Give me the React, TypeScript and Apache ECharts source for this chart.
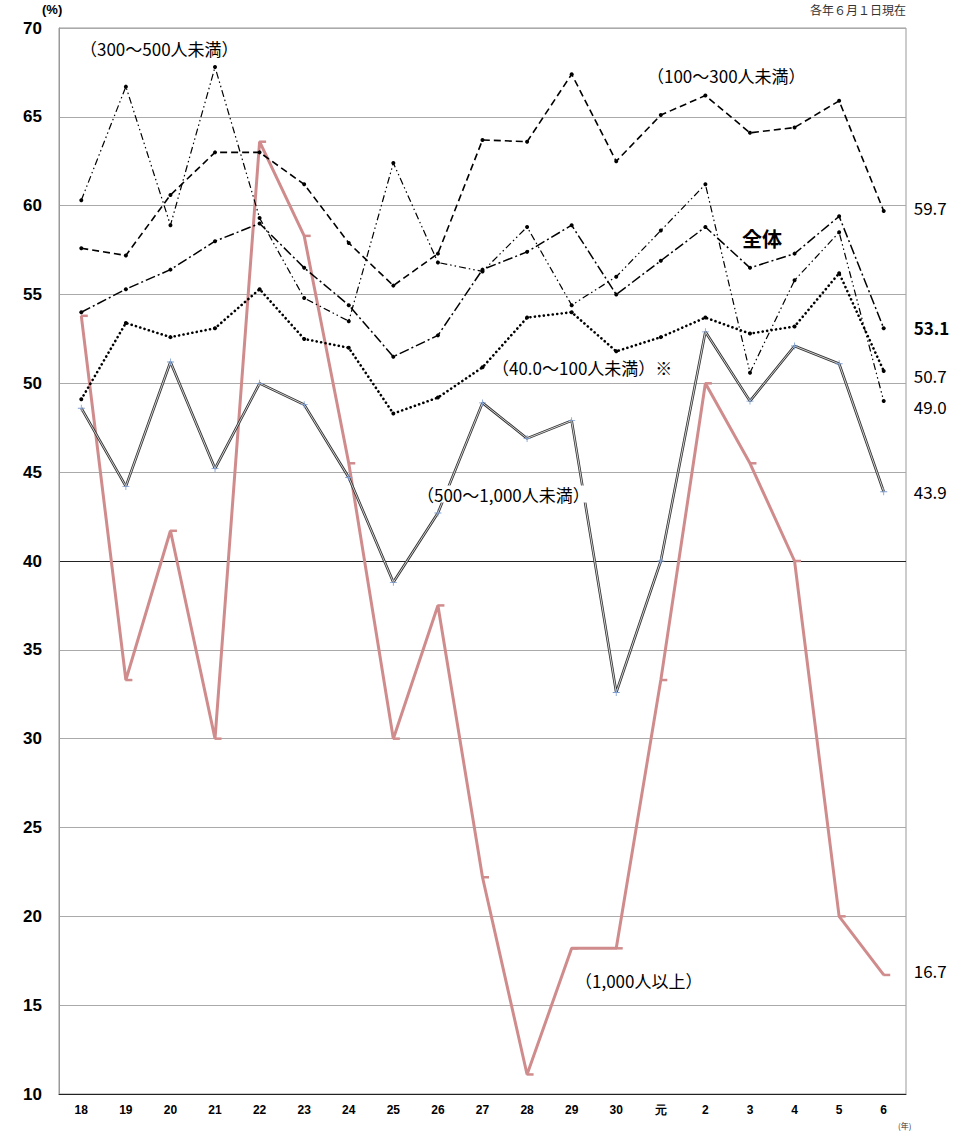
import React, { useEffect, useRef } from "react";
import * as echarts from "echarts";

// Survey years (Heisei 18 – Reiwa 6)
const years = ["18", "19", "20", "21", "22", "23", "24", "25", "26", "27", "28", "29", "30", "元", "2", "3", "4", "5", "6"];

// Share of companies (%) by company size
const total = [54.0, 55.3, 56.4, 58.0, 59.0, 56.5, 54.4, 51.5, 52.7, 56.4, 57.4, 58.9, 55.0, 56.9, 58.8, 56.5, 57.3, 59.4, 53.1];
const size100to300 = [57.6, 57.2, 60.6, 63.0, 63.0, 61.2, 57.9, 55.5, 57.3, 63.7, 63.6, 67.4, 62.5, 65.1, 66.2, 64.1, 64.4, 65.9, 59.7];
const size300to500 = [60.3, 66.7, 58.9, 67.8, 59.3, 54.8, 53.5, 62.4, 56.8, 56.3, 58.8, 54.4, 56.0, 58.6, 61.2, 50.6, 55.8, 58.5, 49.0];
const size40to100 = [49.1, 53.4, 52.6, 53.1, 55.3, 52.5, 52.0, 48.3, 49.2, 50.9, 53.7, 54.0, 51.8, 52.6, 53.7, 52.8, 53.2, 56.2, 50.7];
const size500to1000 = [48.6, 44.2, 51.2, 45.2, 50.0, 48.8, 44.7, 38.8, 42.7, 48.9, 46.9, 47.9, 32.6, 40.0, 52.9, 49.0, 52.1, 51.1, 43.9];
const size1000plus = [53.8, 33.3, 41.7, 30.0, 63.6, 58.3, 45.5, 30.0, 37.5, 22.2, 11.1, 18.2, 18.2, 33.3, 50.0, 45.5, 40.0, 20.0, 16.7];

const yTicks = [10, 15, 20, 25, 30, 35, 40, 45, 50, 55, 60, 65, 70];

const JP = '"Noto Sans CJK JP", "Noto Sans", sans-serif';
const NUM = '"Liberation Sans", Arial, sans-serif';

const endLabel = (dy: number, bold = false) => ({
  show: true,
  distance: 30,
  offset: [0, dy],
  formatter: (p: any) => Number(p.value).toFixed(1),
  fontFamily: JP,
  fontSize: 17,
  fontWeight: bold ? "bold" : "normal",
  color: "#000",
});

const seriesLabel = (text: string, x: number, y: number, bold = false, size = 17) => ({
  type: "text",
  x,
  y,
  z: 100,
  style: {
    text,
    fontFamily: JP,
    fontSize: size,
    fontWeight: bold ? "bold" : "normal",
    fill: "#000",
    backgroundColor: "#fff",
    verticalAlign: "middle",
  },
});

export default function App() {
  const ref = useRef<HTMLDivElement>(null);

  useEffect(() => {
    if (!ref.current) return;
    const chart = echarts.init(ref.current, null, { renderer: "svg" });

    const dot = { symbol: "circle", symbolSize: 4, itemStyle: { color: "#000" } };
    const plus = "path://M4.4,0h1.2v4.4h4.4v1.2h-4.4v4.4h-1.2v-4.4h-4.4v-1.2h4.4z";

    const gridColors = yTicks.map((v) => (v === 40 ? "#222" : "#aaa"));

    chart.setOption({
      animation: false,
      backgroundColor: "#fff",
      grid: { left: 59, right: 73, top: 28, bottom: 40, show: true, borderColor: "#999", borderWidth: 1 },
      xAxis: {
        type: "category",
        data: years,
        boundaryGap: true,
        axisLine: { lineStyle: { color: "#222", width: 1 } },
        axisTick: { show: false },
        axisLabel: { fontFamily: NUM, fontWeight: "bold", fontSize: 12, color: "#000", margin: 10 },
      },
      yAxis: {
        type: "value",
        min: 10,
        max: 70,
        interval: 5,
        axisLine: { show: true, lineStyle: { color: "#999" } },
        axisTick: { show: false },
        axisLabel: { fontFamily: NUM, fontWeight: "bold", fontSize: 17, color: "#000", margin: 17 },
        splitLine: { lineStyle: { color: gridColors, width: 1 } },
      },
      graphic: [
        { type: "text", x: 42, y: 9, z: 100, style: { text: "(%)", fontFamily: NUM, fontWeight: "bold", fontSize: 13, fill: "#000", verticalAlign: "middle" } },
        { type: "text", x: 906, y: 9, z: 100, style: { text: "各年６月１日現在", fontFamily: JP, fontSize: 12, fill: "#333", align: "right", verticalAlign: "middle" } },
        { type: "text", x: 898, y: 1125, z: 100, style: { text: "(年)", fontFamily: JP, fontSize: 8, fill: "#333", verticalAlign: "middle" } },
        seriesLabel("（300～500人未満）", 80, 48),
        seriesLabel("（100～300人未満）", 647, 75),
        seriesLabel("全体", 742, 238, true, 20),
        seriesLabel("（40.0～100人未満）※", 492, 367),
        seriesLabel("（500～1,000人未満）", 417, 494),
        seriesLabel("（1,000人以上）", 575, 980),
      ],
      series: [
        {
          name: "1,000人以上",
          type: "line",
          data: size1000plus,
          z: 2,
          symbol: "rect",
          symbolSize: [7, 2.5],
          symbolOffset: [3, 0],
          itemStyle: { color: "#d08c8c" },
          lineStyle: { color: "#d08c8c", width: 3 },
          endLabel: endLabel(-4),
        },
        {
          name: "500～1,000人未満",
          type: "line",
          data: size500to1000,
          z: 3,
          symbol: "none",
          lineStyle: { color: "#333", width: 2.6 },
          endLabel: endLabel(0),
        },
        {
          name: "500～1,000人未満(inner)",
          type: "line",
          data: size500to1000,
          z: 4,
          silent: true,
          symbol: "none",
          lineStyle: { color: "#e4e4e4", width: 0.9 },
        },
        {
          name: "500～1,000人未満(marks)",
          type: "line",
          data: size500to1000,
          z: 5,
          symbol: plus,
          symbolSize: 7,
          itemStyle: { color: "#7f9fd2" },
          lineStyle: { opacity: 0 },
        },
        {
          name: "40.0～100人未満",
          type: "line",
          data: size40to100,
          z: 6,
          ...dot,
          lineStyle: { color: "#000", width: 2.6, type: [0.1, 4.4], cap: "round" },
          endLabel: endLabel(5),
        },
        {
          name: "300～500人未満",
          type: "line",
          data: size300to500,
          z: 6,
          ...dot,
          lineStyle: { color: "#000", width: 1.2, type: [7, 3, 1.5, 3, 1.5, 3] },
          endLabel: endLabel(5),
        },
        {
          name: "100～300人未満",
          type: "line",
          data: size100to300,
          z: 7,
          ...dot,
          lineStyle: { color: "#000", width: 1.6, type: [7, 4] },
          endLabel: endLabel(-3),
        },
        {
          name: "全体",
          type: "line",
          data: total,
          z: 8,
          ...dot,
          lineStyle: { color: "#000", width: 1.5, type: [10, 3, 2, 3] },
          endLabel: endLabel(-1, true),
        },
      ],
    });

    return () => chart.dispose();
  }, []);

  return (
    <div
      ref={ref}
      style={{ position: "absolute", left: 0, top: 0, width: 979, height: 1134, background: "#fff" }}
    />
  );
}
